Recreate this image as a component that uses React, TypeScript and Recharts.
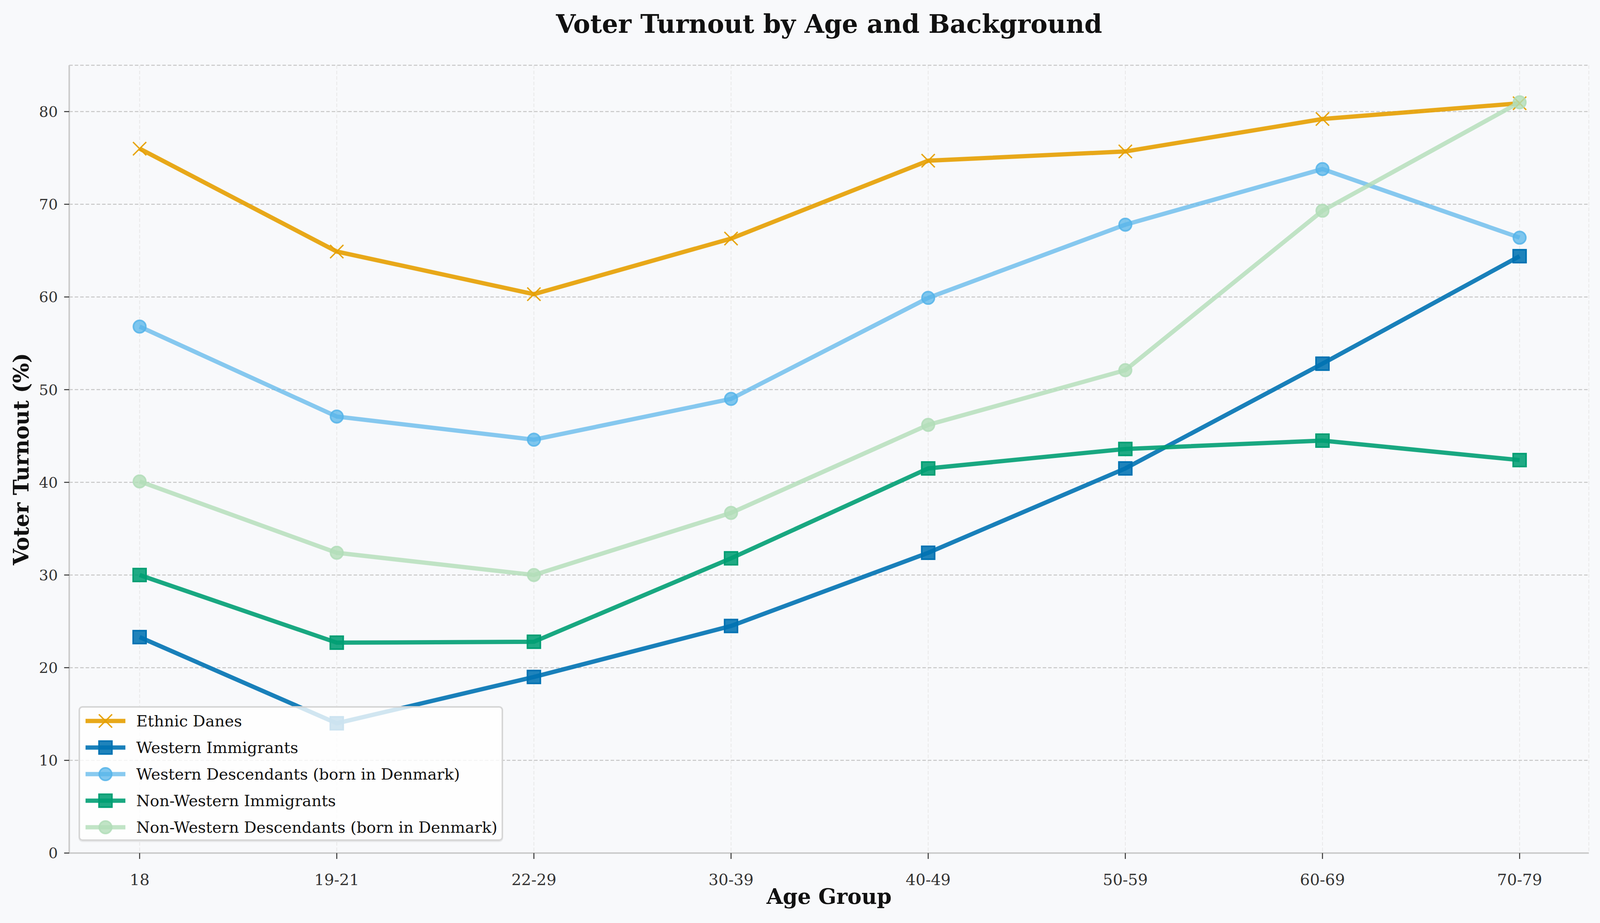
import React from "react"
import { LineChart, Line, XAxis, YAxis, CartesianGrid } from "recharts"

const ageGroups = ["18", "19-21", "22-29", "30-39", "40-49", "50-59", "60-69", "70-79"]
const ethnicDanes = [76.0, 64.9, 60.3, 66.3, 74.7, 75.7, 79.2, 80.9]
const westernImmigrants = [23.3, 14.0, 19.0, 24.5, 32.4, 41.5, 52.8, 64.4]
const westernDescendants = [56.8, 47.1, 44.6, 49.0, 59.9, 67.8, 73.8, 66.4]
const nonWesternImmigrants = [30.0, 22.7, 22.8, 31.8, 41.5, 43.6, 44.5, 42.4]
const nonWesternDescendants = [40.1, 32.4, 30.0, 36.7, 46.2, 52.1, 69.3, 81.0]
const yTicks = [0, 10, 20, 30, 40, 50, 60, 70, 80]

const FONT = "'DejaVu Serif', serif"

// the window is 4160 wide but the visible page can be narrower, so squeeze x a little
const FULL_W = 4160
const H = 2362
const W = typeof window !== "undefined" ? Math.min(window.innerWidth || FULL_W, FULL_W) : FULL_W
const sx = W / FULL_W

type MarkerKind = "x" | "square" | "circle"

interface SeriesDef {
  key: string
  name: string
  values: number[]
  color: string
  lineOpacity: number
  marker: MarkerKind
  fillOpacity: number
}

const SERIES: SeriesDef[] = [
  { key: "ethnic", name: "Ethnic Danes", values: ethnicDanes, color: "#E69F00", lineOpacity: 0.9, marker: "x", fillOpacity: 0.9 },
  { key: "wImm", name: "Western Immigrants", values: westernImmigrants, color: "#0072B2", lineOpacity: 0.9, marker: "square", fillOpacity: 0.88 },
  { key: "wDesc", name: "Western Descendants (born in Denmark)", values: westernDescendants, color: "#56B4E9", lineOpacity: 0.7, marker: "circle", fillOpacity: 0.75 },
  { key: "nwImm", name: "Non-Western Immigrants", values: nonWesternImmigrants, color: "#009E73", lineOpacity: 0.9, marker: "square", fillOpacity: 0.88 },
  { key: "nwDesc", name: "Non-Western Descendants (born in Denmark)", values: nonWesternDescendants, color: "#B2DDB8", lineOpacity: 0.8, marker: "circle", fillOpacity: 0.8 },
]

const data = ageGroups.map((age, i) => {
  const row: Record<string, string | number> = { age }
  SERIES.forEach((s) => {
    row[s.key] = s.values[i]
  })
  return row
})

function Marker({ kind, cx, cy, color, fillOpacity }: { kind: MarkerKind; cx: number; cy: number; color: string; fillOpacity: number }) {
  if (kind === "x") {
    const h = 17
    return (
      <g stroke={color} strokeWidth={3.5} strokeOpacity={0.95}>
        <line x1={cx - h} y1={cy - h} x2={cx + h} y2={cy + h} />
        <line x1={cx - h} y1={cy + h} x2={cx + h} y2={cy - h} />
      </g>
    )
  }
  if (kind === "square") {
    const h = 16.5
    return (
      <rect x={cx - h} y={cy - h} width={h * 2} height={h * 2} fill={color} fillOpacity={fillOpacity} stroke={color} strokeWidth={4} />
    )
  }
  return <circle cx={cx} cy={cy} r={16} fill={color} fillOpacity={fillOpacity} stroke={color} strokeOpacity={0.85} strokeWidth={4} />
}

function Legend() {
  return (
    <div
      style={{
        position: "absolute",
        left: 204 * sx,
        top: 1807,
        width: 1104 * sx,
        height: 345,
        background: "rgba(255,255,255,0.8)",
        border: "4px solid rgba(204,204,204,0.8)",
        borderRadius: 10,
        boxShadow: "0 3px 0 rgba(0,0,0,0.06)",
        boxSizing: "border-box",
      }}
    >
      {SERIES.map((s, i) => (
        <div
          key={s.key}
          style={{ position: "absolute", left: 12, top: 4 + i * 68, height: 60, display: "flex", alignItems: "center" }}
        >
          <svg width={106} height={60}>
            <line x1={2} y1={30} x2={104} y2={30} stroke={s.color} strokeOpacity={s.lineOpacity} strokeWidth={11} />
            <Marker kind={s.marker} cx={53} cy={30} color={s.color} fillOpacity={s.fillOpacity} />
          </svg>
          <span style={{ marginLeft: 26, fontFamily: FONT, fontSize: 40, color: "#111", whiteSpace: "nowrap" }}>{s.name}</span>
        </div>
      ))}
    </div>
  )
}

export default function App() {
  return (
    <div style={{ position: "relative", width: W, height: H, background: "#F8F9FB", overflow: "hidden" }}>
      <style>{`html,body{margin:0;padding:0;overflow:hidden}`}</style>
      <div
        style={{
          position: "absolute",
          left: 180 * sx,
          width: 3951 * sx,
          top: 23,
          textAlign: "center",
          fontFamily: FONT,
          fontWeight: "bold",
          fontSize: 65,
          color: "#111",
        }}
      >
        Voter Turnout by Age and Background
      </div>
      <LineChart width={W} height={H} data={data} margin={{ top: 167, right: 29 * sx, bottom: 29, left: 20 * sx }}>
        <CartesianGrid horizontal={false} stroke="#e8e8e8" strokeWidth={2} strokeDasharray="9 5" />
        <CartesianGrid vertical={false} stroke="#c6c6c6" strokeWidth={2.5} strokeDasharray="9 5" />
        <XAxis
          dataKey="age"
          type="category"
          height={150}
          padding={{ left: 183 * sx, right: 180 * sx }}
          axisLine={{ stroke: "#cccccc", strokeWidth: 4 }}
          tickLine={{ stroke: "#333", strokeWidth: 2.5 }}
          tickSize={15}
          tickMargin={39}
          tick={{ fill: "#333", fontSize: 40, fontFamily: FONT }}
          label={{
            value: "Age Group",
            position: "insideBottom",
            offset: 20,
            style: { fontFamily: FONT, fontWeight: "bold", fontSize: 54, fill: "#111" },
          }}
        />
        <YAxis
          type="number"
          domain={[0, 85]}
          ticks={yTicks}
          width={160 * sx}
          axisLine={{ stroke: "#cccccc", strokeWidth: 4 }}
          tickLine={{ stroke: "#333", strokeWidth: 2.5 }}
          tickSize={13}
          tickMargin={16}
          tick={{ fill: "#333", fontSize: 38, fontFamily: FONT }}
          label={{
            value: "Voter Turnout (%)",
            angle: -90,
            position: "insideLeft",
            offset: 34,
            style: { textAnchor: "middle", fontFamily: FONT, fontWeight: "bold", fontSize: 54, fill: "#111" },
          }}
        />
        {SERIES.map((s) => (
          <Line
            key={s.key}
            dataKey={s.key}
            name={s.name}
            type="linear"
            stroke={s.color}
            strokeOpacity={s.lineOpacity}
            strokeWidth={11}
            isAnimationActive={false}
            activeDot={false}
            dot={(p: any) => (
              <Marker key={`${s.key}-${p.index}`} kind={s.marker} cx={p.cx} cy={p.cy} color={s.color} fillOpacity={s.fillOpacity} />
            )}
          />
        ))}
      </LineChart>
      <Legend />
    </div>
  )
}
